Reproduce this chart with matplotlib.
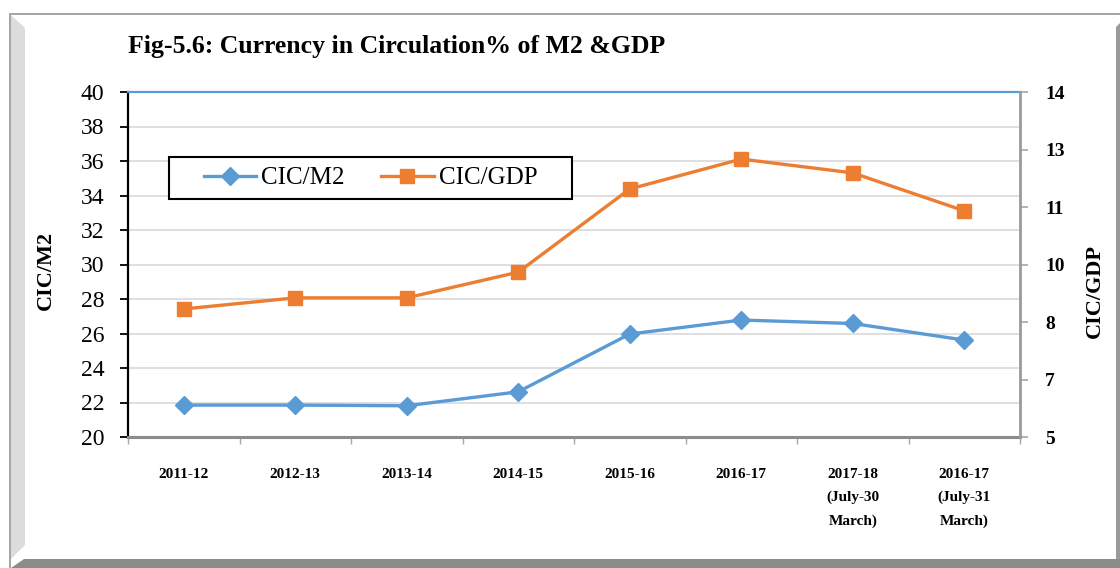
import math
import numpy as np
import matplotlib
matplotlib.use("Agg")
import matplotlib.pyplot as plt
from matplotlib.patches import Polygon, Rectangle
from matplotlib.ticker import FixedLocator, FuncFormatter

# data
categories = ['2011-12', '2012-13', '2013-14', '2014-15', '2015-16', '2016-17',
              '2017-18\n(July-30\nMarch)', '2016-17\n(July-31\nMarch)']
cic_m2 = [21.85, 21.85, 21.81, 22.62, 25.97, 26.78, 26.58, 25.62]
cic_gdp = [8.34, 8.63, 8.63, 9.30, 11.47, 12.25, 11.89, 10.90]

left_ticks = np.arange(20, 41, 2)
right_ticks = np.arange(5, 14.01, 1.5)

BLUE = '#5B9BD5'
ORANGE = '#ED7D31'
plt.rcParams['font.family'] = ['Liberation Serif', 'DejaVu Serif']

W, H = 1120, 568
fig = plt.figure(figsize=(W / 100, H / 100), dpi=100)

# outer frame with bevel, drawn in pixel coords
bg = fig.add_axes([0, 0, 1, 1], zorder=-1)
bg.set_xlim(0, W)
bg.set_ylim(H, 0)
bg.axis('off')
bg.add_patch(Rectangle((9, 13), W - 9, 2, color='#A6A6A6', lw=0))
bg.add_patch(Rectangle((9, 13), 2, H - 13, color='#A6A6A6', lw=0))
bg.add_patch(Polygon([(11, 15), (25, 28), (25, 545), (11, 559)], closed=True,
                     color='#DCDCDC', lw=0))
bg.add_patch(Polygon([(1116, 27), (W, 23), (W, H), (1116, H)], closed=True,
                     color='#9A9A9A', lw=0))
bg.add_patch(Polygon([(11, H), (24, 559), (W, 559), (W, H)], closed=True,
                     color='#8C8C8C', lw=0))

# plot area
x0, x1, y0, y1 = 128, 1020, 92, 437
ax = fig.add_axes([x0 / W, 1 - y1 / H, (x1 - x0) / W, (y1 - y0) / H])
ax2 = ax.twinx()

x = np.arange(len(categories))
ax.plot(x, cic_m2, color=BLUE, lw=2.4, marker='D', ms=9, label='CIC/M2', zorder=3)
ax2.plot(x, cic_gdp, color=ORANGE, lw=2.4, marker='s', ms=10, label='CIC/GDP', zorder=3)

ax.set_xlim(-0.5, len(categories) - 0.5)
ax.set_ylim(20, 40)
ax2.set_ylim(5, 14)

ax.set_yticks(left_ticks)
ax.yaxis.grid(True, color='#D9D9D9', lw=1.2)
ax.set_axisbelow(True)
ax.tick_params(axis='y', direction='out', length=6, width=1.3, colors='black',
               labelsize=17, pad=11)

ax.set_xticks(x)
ax.set_xticklabels(categories, fontweight='bold', fontsize=11, linespacing=2.0)
ax.xaxis.set_minor_locator(FixedLocator(np.arange(-0.5, len(categories), 1)))
ax.tick_params(axis='x', which='major', length=0, pad=22)
ax.tick_params(axis='x', which='minor', direction='out', length=5, width=1, color='#A6A6A6')

# right axis: Excel-style rounded labels of a 1.5 step scale
ax2.yaxis.set_major_locator(FixedLocator(right_ticks))
ax2.yaxis.set_major_formatter(FuncFormatter(lambda v, p: str(int(math.floor(v + 0.5)))))
ax2.tick_params(axis='y', direction='out', length=6, width=1.2, color='#A6A6A6',
                labelsize=14, pad=12)
for lab in ax2.get_yticklabels():
    lab.set_fontweight('bold')

ax.spines['right'].set_visible(False)
ax.spines['left'].set_color('black')
ax.spines['left'].set_linewidth(1.6)
ax.spines['top'].set_color(BLUE)
ax.spines['top'].set_linewidth(1.6)
ax.spines['bottom'].set_color('#8C8C8C')
ax.spines['bottom'].set_linewidth(2.2)
for s in ['left', 'top', 'bottom']:
    ax2.spines[s].set_visible(False)
ax2.spines['right'].set_color('#9A9A9A')
ax2.spines['right'].set_linewidth(2)

# legend with a square black box
lx0, lx1, ly0, ly1 = 169, 572, 157, 199
box = Rectangle(((lx0 - x0) / (x1 - x0), (y1 - ly1) / (y1 - y0)),
                (lx1 - lx0) / (x1 - x0), (ly1 - ly0) / (y1 - y0),
                transform=ax2.transAxes, facecolor='white', edgecolor='black',
                lw=1.5, zorder=5)
ax2.add_patch(box)
h1, l1 = ax.get_legend_handles_labels()
h2, l2 = ax2.get_legend_handles_labels()
leg = ax2.legend(h1 + h2, l1 + l2, loc='center', ncol=2, frameon=False,
                 bbox_to_anchor=(((lx0 + lx1) / 2 - x0) / (x1 - x0),
                                 (y1 - (ly0 + ly1) / 2) / (y1 - y0)),
                 fontsize=18, handlelength=2.1, handletextpad=0.2,
                 columnspacing=1.45, borderpad=0.2)
leg.set_zorder(6)

fig.text(x0 / W, 1 - 53 / H, 'Fig-5.6: Currency in Circulation% of M2 &GDP',
         fontsize=18.5, fontweight='bold', ha='left', va='baseline')
fig.text(46 / W, 1 - 270 / H, 'CIC/M2', fontsize=16, fontweight='bold',
         rotation=90, ha='center', va='center')
fig.text(1095 / W, 1 - 291 / H, 'CIC/GDP', fontsize=16, fontweight='bold',
         rotation=90, ha='center', va='center')

fig.savefig('out.png', dpi=100)
